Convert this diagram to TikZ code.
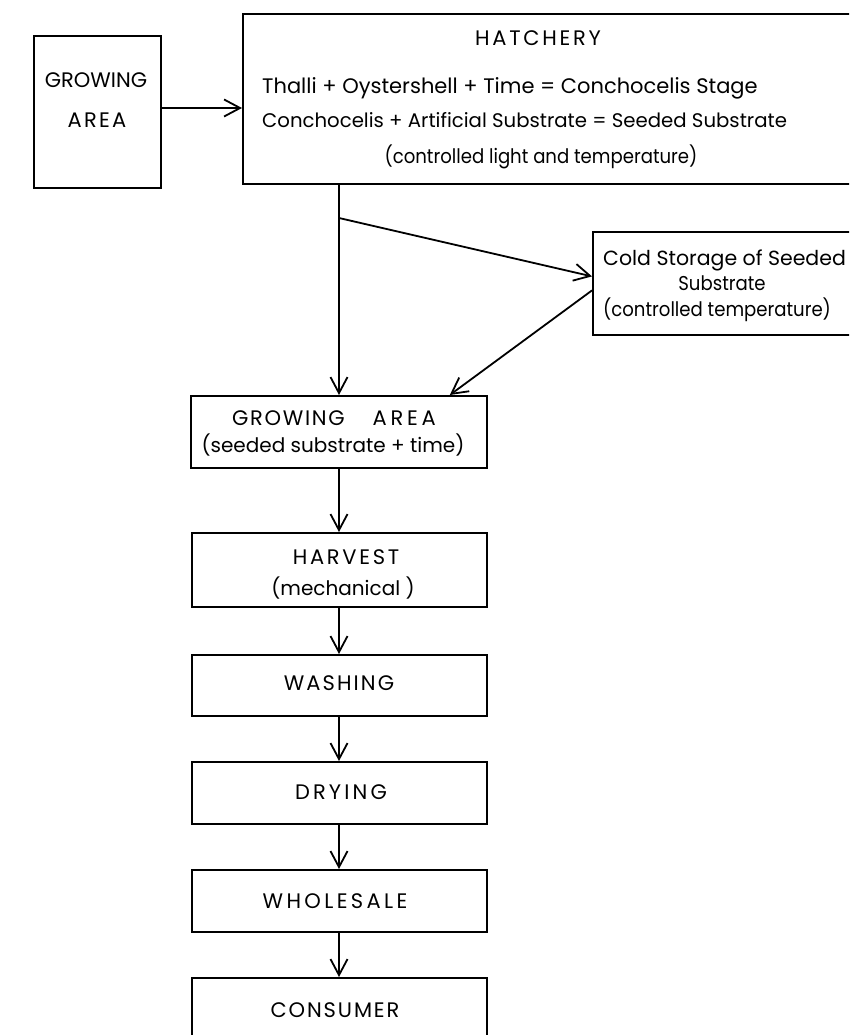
\documentclass[tikz,border=0pt]{standalone}
\usepackage{fontspec}
\setmainfont{Poppins}
\usetikzlibrary{arrows.meta,calc}
\newcommand{\capsls}[2]{{\addfontfeature{LetterSpace=#1}#2}}
\newcommand{\narrowtxt}[1]{\scalebox{0.905}[1]{#1}}
\begin{document}
\begin{tikzpicture}[x=1pt,y=-1pt,
  box/.style={draw, line width=1.8pt, inner sep=0pt, anchor=north west},
  txt/.style={font=\fontsize{#1}{22}\selectfont, inner sep=0pt, anchor=base},
  txt/.default=20,
  caps/.style={font=\fontsize{21}{24}\selectfont, inner sep=0pt, anchor=base},
  arr/.style={line width=1.8pt, -{Straight Barb[length=16pt,width=17pt,line width=1.8pt]}}]
\useasboundingbox (0,0) rectangle (849,1035);
\clip (0,0) rectangle (849,1035);
% boxes
\node[box, minimum width=127pt, minimum height=152pt] (ga1) at (33,35) {};
\node[box, minimum width=700pt, minimum height=170pt] (hat) at (242,13) {};
\node[box, minimum width=400pt, minimum height=103pt] (cs) at (592,231) {};
\node[box, minimum width=296pt, minimum height=72pt] (ga2) at (190,395) {};
\node[box, minimum width=295pt, minimum height=74pt] (harv) at (191,532) {};
\node[box, minimum width=295pt, minimum height=61pt] (wash) at (191,654) {};
\node[box, minimum width=295pt, minimum height=62pt] (dry) at (191,761) {};
\node[box, minimum width=295pt, minimum height=62pt] (whole) at (191,869) {};
\node[box, minimum width=295pt, minimum height=80pt] (cons) at (191,977) {};
% texts
\node[caps] (t1) at (96,88) {GROWING};
\node[caps] (t2) at (97,128) {\capsls{11}{AREA}};
\node[caps] (t3) at (538,46) {\capsls{13}{HATCHERY}};
\node[txt=21, anchor=base west] (t4) at (262,94) {Thalli + Oystershell + Time = Conchocelis Stage};
\node[txt=19.7, anchor=base west] (t5) at (262,128) {Conchocelis + Artificial Substrate = Seeded Substrate};
\node[txt] (t6) at (541,164) {\narrowtxt{(controlled light and temperature)}};
\node[txt=20.5, anchor=base west] (t7) at (603,265) {Cold Storage of Seeded};
\node[txt] (t8) at (722,290) {\narrowtxt{Substrate}};
\node[txt, anchor=base west] (t9) at (603,316) {\narrowtxt{(controlled temperature)}};
\node[caps] (t10) at (334,425) {\capsls{8}{GROWING}\hspace{28pt}\capsls{18}{AREA}};
\node[txt] (t11) at (333,452) {(seeded substrate + time)};
\node[caps] (t12) at (346,564) {\capsls{13}{HARVEST}};
\node[txt] (t13) at (343,595) {(mechanical )};
\node[caps] (t14) at (339,690) {\capsls{10}{WASHING}};
\node[caps] (t15) at (341,799) {\capsls{15}{DRYING}};
\node[caps] (t16) at (335,908) {\capsls{16}{WHOLESALE}};
\node[caps] (t17) at (335,1017) {\capsls{9}{CONSUMER}};
% connectors
\coordinate (br) at (339,218);
\draw[arr] (ga1.east |- 0,108) -- (hat.west |- 0,108);
\draw[arr] (hat.south -| br) -- (ga2.north -| br);
\draw[arr] (br) -- ($(cs.west)+(0,-7)$);
\draw[arr] ($(cs.west)+(0,7)$) -- ($(ga2.north east)+(-38,0)$);
\draw[arr] (ga2.south -| br) -- (harv.north -| br);
\draw[arr] (harv.south -| br) -- (wash.north -| br);
\draw[arr] (wash.south -| br) -- (dry.north -| br);
\draw[arr] (dry.south -| br) -- (whole.north -| br);
\draw[arr] (whole.south -| br) -- (cons.north -| br);
\end{tikzpicture}
\end{document}
